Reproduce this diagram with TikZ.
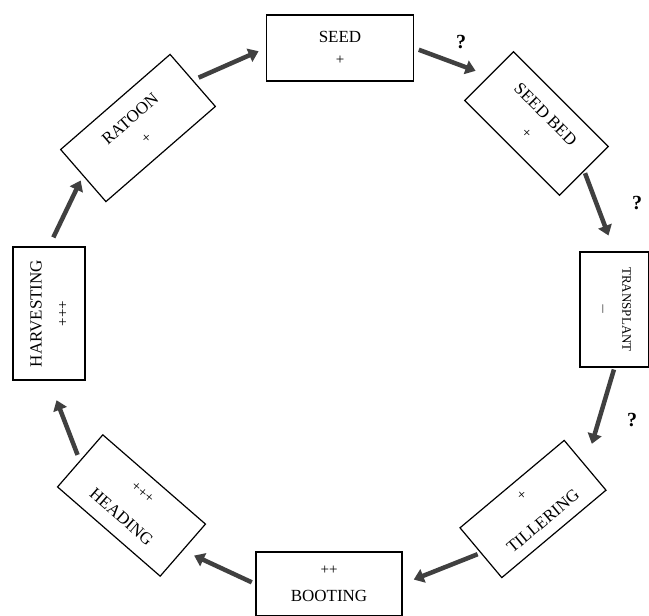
\documentclass[tikz,border=0pt]{standalone}
\usepackage{fontspec}
\setmainfont{Liberation Serif}
\usetikzlibrary{arrows.meta}
\newcommand\signs[1]{{\fontsize{15}{21}\selectfont #1}}

\begin{document}
\begin{tikzpicture}[x=1pt,y=-1pt,stage/.style={draw,line width=1.2pt,rectangle,align=center,inner sep=2pt,font=\fontsize{17}{21}\selectfont}, flow/.style={line width=4.5pt,draw=black!75,-{Triangle[length=10pt,width=14pt]}}, query/.style={font=\fontsize{20}{20}\selectfont\bfseries}]
\useasboundingbox (0,0) rectangle (649,616);

\node(seed)[stage,minimum width=147pt,minimum height=66pt] at (340,48) {SEED\\[1pt]\signs{+}};
\node(seedbed)[stage,minimum width=134pt,minimum height=69pt,rotate=-45] at (536.5,123.5) {SEED BED\\[5pt]\signs{+}};
\node(transplant)[stage,minimum width=115pt,minimum height=69pt,rotate=-90,font=\fontsize{13}{20}\selectfont] at (614.5,309.5) {TRANSPLANT\\[3pt]\signs{$-$}};
\node(tillering)[stage,minimum width=136pt,minimum height=65pt,rotate=40] at (533,509) {\signs{+}\\[13pt]TILLERING};
\node(booting)[stage,minimum width=146pt,minimum height=64pt] at (329,584) {\signs{++}\\[6pt]BOOTING};
\node(heading)[stage,minimum width=136pt,minimum height=69pt,rotate=-41] at (131.5,505.5) {\signs{+++}\\[12pt]HEADING};
\node(harvesting)[stage,minimum width=133pt,minimum height=72pt,rotate=90] at (49,313.5) {HARVESTING\\[5pt]\signs{+++}};
\node(ratoon)[stage,minimum width=145pt,minimum height=69pt,rotate=41] at (138,128) {RATOON\\[3pt]\signs{+}};

\node(q1)[query] at (461,42) {?};
\node(q2)[query] at (637,203) {?};
\node(q3)[query] at (632,420) {?};

\draw [flow,shorten <=6pt,shorten >=8pt] (ratoon.east) to (seed.west);
\draw [flow,shorten <=5pt,shorten >=14pt] (seed.east) to (seedbed.west);
\draw [flow,shorten <=2pt,shorten >=17pt] (seedbed.east) to (transplant.west);
\draw [flow,shorten <=2pt,shorten >=22pt] (transplant.east) to (tillering.east);
\draw [flow,shorten <=3pt,shorten >=12pt] (tillering.west) to (booting.east);
\draw [flow,shorten <=4pt,shorten >=12pt] (booting.west) to (heading.east);
\draw [flow,shorten <=6pt,shorten >=21pt] (heading.west) to (harvesting.west);
\draw [flow,shorten <=10pt,shorten >=5pt] (harvesting.east) to (ratoon.west);
\end{tikzpicture}
\end{document}
